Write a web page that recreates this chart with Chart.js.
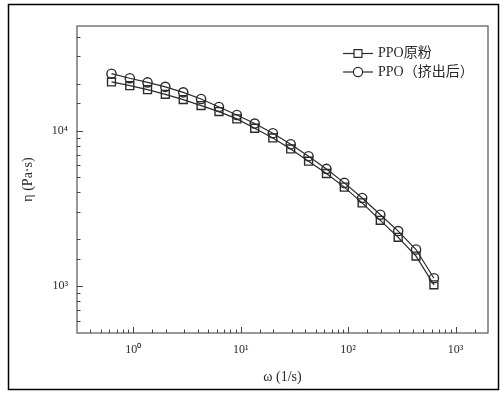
<!DOCTYPE html>
<html>
<head>
<meta charset="utf-8">
<script src="https://cdn.jsdelivr.net/npm/chart.js@4.4.0/dist/chart.umd.min.js"></script>
<style>
  html, body { margin: 0; padding: 0; background: #fff; }
</style>
</head>
<body>
<canvas id="viscChart" width="504" height="394"></canvas>
<script>
// angular frequency (1/s)
var omega = [0.628, 0.93, 1.36, 1.99, 2.92, 4.28, 6.28, 9.21, 13.5, 19.9, 29.2, 42.8, 62.8, 92.1, 135, 199, 292, 428, 628];
// complex viscosity (Pa·s)
var etaPowder = [20550, 19450, 18330, 17100, 15820, 14480, 13240, 11890, 10350, 8970, 7620, 6360, 5300, 4330, 3430, 2650, 2060, 1560, 1020];
var etaExtruded = [23200, 21700, 20400, 19100, 17600, 15960, 14190, 12600, 11090, 9620, 8170, 6840, 5670, 4610, 3690, 2880, 2260, 1720, 1125];
var seriesNames = ['PPO原粉', 'PPO（挤出后）'];
var xTickValues = [1, 10, 100, 1000];
var xTickLabels = ['10⁰', '10¹', '10²', '10³'];
var yTickValues = [1000, 10000];
var yTickLabels = ['10³', '10⁴'];

var serif = '"Liberation Serif", "Noto Sans CJK SC", serif';
var ink = '#2a2a2a';

function toPoints(xs, ys) {
  return xs.map(function (x, i) { return { x: x, y: ys[i] }; });
}
function isPow10(v) {
  var l = Math.log10(v);
  return Math.abs(l - Math.round(l)) < 1e-6;
}
function labelFor(values, labels) {
  return function (v) {
    for (var i = 0; i < values.length; i++) {
      if (Math.abs(v - values[i]) < values[i] * 1e-6) return labels[i];
    }
    return '';
  };
}

var framePlugin = {
  id: 'framePlugin',
  beforeDraw: function (chart) {
    var ctx = chart.ctx;
    ctx.save();
    ctx.fillStyle = '#fff';
    ctx.fillRect(0, 0, chart.width, chart.height);
    ctx.strokeStyle = '#000';
    ctx.lineWidth = 1.5;
    ctx.strokeRect(8.5, 4.5, 490, 385);
    ctx.restore();
  },
  afterDraw: function (chart) {
    var ctx = chart.ctx, a = chart.chartArea;
    var xs = chart.scales.x, ys = chart.scales.y;
    ctx.save();
    ctx.strokeStyle = '#555';
    ctx.lineWidth = 1.2;
    ctx.strokeRect(a.left, a.top, a.right - a.left, a.bottom - a.top);
    // inward tick marks
    ctx.lineWidth = 1;
    ctx.strokeStyle = '#444';
    ctx.beginPath();
    xs.ticks.forEach(function (t) {
      if (t.value <= xs.min || t.value >= xs.max) return;
      var p = Math.round(xs.getPixelForValue(t.value)) + 0.5;
      var len = isPow10(t.value) ? 6 : 3.5;
      ctx.moveTo(p, a.bottom);
      ctx.lineTo(p, a.bottom - len);
    });
    ys.ticks.forEach(function (t) {
      if (t.value <= ys.min || t.value >= ys.max) return;
      var p = Math.round(ys.getPixelForValue(t.value)) + 0.5;
      var len = isPow10(t.value) ? 6 : 3.5;
      ctx.moveTo(a.left, p);
      ctx.lineTo(a.left + len, p);
    });
    ctx.stroke();

    // legend: line + marker + label
    chart.data.datasets.forEach(function (ds, i) {
      var y = 53.5 + i * 18.5;
      ctx.strokeStyle = ink;
      ctx.lineWidth = 1.2;
      ctx.beginPath();
      ctx.moveTo(343, y);
      ctx.lineTo(373, y);
      ctx.stroke();
      ctx.fillStyle = '#fff';
      Chart.helpers.drawPoint(ctx, {
        pointStyle: ds.pointStyle,
        radius: ds.pointRadius,
        rotation: 0,
        borderWidth: ds.pointBorderWidth
      }, 358, y);
      ctx.fillStyle = ink;
      ctx.font = '14px ' + serif;
      ctx.textBaseline = 'middle';
      ctx.textAlign = 'left';
      ctx.fillText(ds.label, 378, y);
    });
    ctx.restore();
  }
};

new Chart(document.getElementById('viscChart'), {
  type: 'scatter',
  data: {
    datasets: [{
      label: seriesNames[0],
      data: toPoints(omega, etaPowder),
      showLine: true,
      borderColor: ink,
      borderWidth: 1.2,
      pointStyle: 'rect',
      pointRadius: 5.6,
      pointBorderWidth: 1.4,
      pointBorderColor: ink,
      pointBackgroundColor: 'rgba(255,255,255,0)'
    }, {
      label: seriesNames[1],
      data: toPoints(omega, etaExtruded),
      showLine: true,
      borderColor: ink,
      borderWidth: 1.2,
      pointStyle: 'circle',
      pointRadius: 4.6,
      pointBorderWidth: 1.4,
      pointBorderColor: ink,
      pointBackgroundColor: 'rgba(255,255,255,0)'
    }]
  },
  options: {
    responsive: false,
    animation: false,
    devicePixelRatio: 1,
    layout: { padding: { left: 0, top: 26, right: 16, bottom: 0 } },
    plugins: {
      legend: { display: false },
      tooltip: { enabled: false }
    },
    scales: {
      x: {
        type: 'logarithmic',
        min: 0.3,
        max: 2000,
        grid: { display: false, drawTicks: false, tickLength: 0 },
        border: { display: false },
        ticks: {
          autoSkip: false,
          maxRotation: 0,
          padding: 10,
          color: ink,
          font: { family: serif, size: 12 },
          callback: labelFor(xTickValues, xTickLabels)
        },
        title: {
          display: true,
          text: 'ω (1/s)',
          color: ink,
          font: { family: serif, size: 14 },
          padding: { top: 0, bottom: 8 }
        },
        afterFit: function (s) { s.height = 61; }
      },
      y: {
        type: 'logarithmic',
        min: 500,
        max: 47000,
        grid: { display: false, drawTicks: false, tickLength: 0 },
        border: { display: false },
        ticks: {
          autoSkip: false,
          padding: 9,
          color: ink,
          font: { family: serif, size: 12 },
          callback: labelFor(yTickValues, yTickLabels)
        },
        title: {
          display: true,
          text: 'η (Pa·s)',
          color: ink,
          font: { family: serif, size: 14 },
          padding: { top: 20, bottom: 0 }
        },
        afterFit: function (s) { s.width = 77; }
      }
    }
  },
  plugins: [framePlugin]
});
</script>
</body>
</html>
